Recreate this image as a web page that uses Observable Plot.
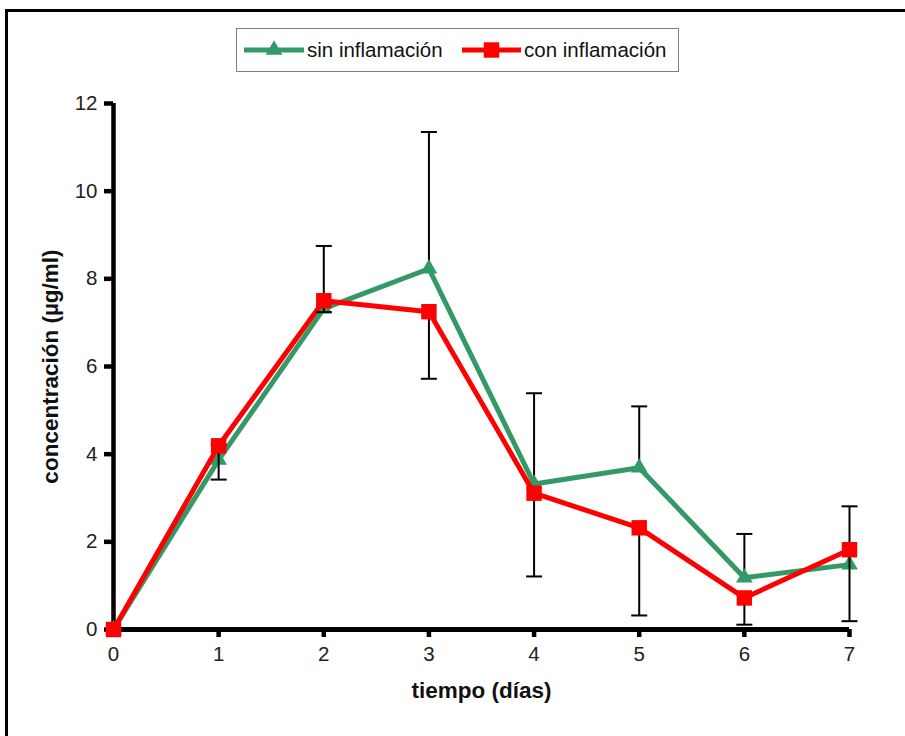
<!DOCTYPE html>
<html>
<head>
<meta charset="utf-8">
<script src="https://cdn.jsdelivr.net/npm/d3@7"></script>
<script src="https://cdn.jsdelivr.net/npm/@observablehq/plot@0.6"></script>
<style>
  html, body { margin: 0; padding: 0; background: #fff; }
  #wrap { position: relative; width: 905px; height: 736px; overflow: hidden; }
  #frame { position: absolute; left: 5px; top: 9px; width: 1200px; height: 1200px;
           border-left: 3px solid #000; border-top: 3px solid #000; }
  #chart { position: absolute; left: 0; top: 0; }
  #legend { position: absolute; left: 236px; top: 28px; width: 441px; height: 42px;
            border: 1.5px solid #7f7f7f; background: #fff;
            font-family: "Liberation Sans", Arial, sans-serif; font-size: 20.5px; color: #111; }
  #legend svg { position: absolute; left: 0; top: 0; }
  #legend span { position: absolute; top: 9px; white-space: nowrap; }
</style>
</head>
<body>
<div id="wrap">
  <div id="frame"></div>
  <div id="chart"></div>
  <div id="legend"></div>
</div>
<script>
// Tiempo en días
const dias = [0, 1, 2, 3, 4, 5, 6, 7];
// Concentración media (µg/ml) sin inflamación y su error (+)
const sinInflamacion = [0, 3.87, 7.32, 8.23, 3.32, 3.69, 1.18, 1.48];
const errorSin = [0, 0.35, 1.43, 3.12, 2.07, 1.40, 1.00, 1.33];
// Concentración media (µg/ml) con inflamación y su error (−)
const conInflamacion = [0, 4.19, 7.50, 7.25, 3.11, 2.32, 0.72, 1.82];
const errorCon = [0, 0.77, 0.26, 1.53, 1.90, 2.00, 0.61, 1.63];
// Marcas de los ejes
const yTicks = [0, 2, 4, 6, 8, 10, 12];
const xTicks = [0, 1, 2, 3, 4, 5, 6, 7];

const series = [
  { nombre: "sin inflamación", color: "#339966", simbolo: "triangle", r: 6.2 },
  { nombre: "con inflamación", color: "#ff0000", simbolo: "square", r: 8.7 }
];

const sin = dias.map((d, i) => ({ dia: d, valor: sinInflamacion[i], err: errorSin[i] }));
const con = dias.map((d, i) => ({ dia: d, valor: conInflamacion[i], err: errorCon[i] }));

// horizontal cap for the error whiskers
const cap = {
  draw(context, size) {
    const w = Math.sqrt(size / Math.PI);
    context.moveTo(-w, 0);
    context.lineTo(w, 0);
  }
};

const sinBarras = sin.filter(d => d.err > 0);
const conBarras = con.filter(d => d.err > 0);

const font = "Liberation Sans, Arial, sans-serif";

const chart = Plot.plot({
  width: 905,
  height: 736,
  marginLeft: 113,
  marginRight: 56,
  marginTop: 103,
  marginBottom: 107,
  style: { fontFamily: font, fontSize: "20.5px", color: "#222", background: "transparent", overflow: "visible" },
  x: { domain: [0, 7] },
  y: { domain: [0, 12] },
  marks: [
    Plot.axisY({ ticks: yTicks, tickSize: 9, tickPadding: 7, strokeWidth: 4.5, stroke: "#000", label: null,
                 tickFormat: d => String(d), fontSize: 20.5 }),
    Plot.axisX({ ticks: xTicks, tickSize: 8, tickPadding: 9, strokeWidth: 4.5, stroke: "#000", label: null,
                 tickFormat: d => String(d), fontSize: 20.5 }),
    Plot.ruleX([0], { y1: 0, y2: 12, strokeWidth: 4.5, stroke: "#000" }),
    Plot.ruleY([0], { x1: 0, x2: 7, strokeWidth: 5, stroke: "#000" }),

    // sin inflamación
    Plot.line(sin, { x: "dia", y: "valor", stroke: series[0].color, strokeWidth: 5 }),
    Plot.ruleX(sinBarras, { x: "dia", y1: "valor", y2: d => d.valor + d.err, stroke: "#000", strokeWidth: 2 }),
    Plot.dot(sinBarras, { x: "dia", y: d => d.valor + d.err, symbol: cap, r: 8, stroke: "#000", fill: "none", strokeWidth: 2 }),
    Plot.dot(sin, { x: "dia", y: "valor", symbol: series[0].simbolo, r: series[0].r, fill: series[0].color, stroke: "none" }),

    // con inflamación
    Plot.line(con, { x: "dia", y: "valor", stroke: series[1].color, strokeWidth: 5 }),
    Plot.ruleX(conBarras, { x: "dia", y1: d => d.valor - d.err, y2: "valor", stroke: "#000", strokeWidth: 2 }),
    Plot.dot(conBarras, { x: "dia", y: d => d.valor - d.err, symbol: cap, r: 8, stroke: "#000", fill: "none", strokeWidth: 2 }),
    Plot.dot(con, { x: "dia", y: "valor", symbol: series[1].simbolo, r: series[1].r, fill: series[1].color, stroke: "none" }),

    // axis titles
    Plot.text(["concentración (µg/ml)"], { frameAnchor: "left", textAnchor: "middle", dx: -63, rotate: -90,
      fontWeight: "bold", fontSize: 22.5, fill: "#111" }),
    Plot.text(["tiempo (días)"], { frameAnchor: "bottom", textAnchor: "middle", dy: 68,
      fontWeight: "bold", fontSize: 22.5, fill: "#111" })
  ]
});
document.getElementById("chart").appendChild(chart);

// legend
const legend = document.getElementById("legend");
const ns = "http://www.w3.org/2000/svg";
const lsvg = document.createElementNS(ns, "svg");
lsvg.setAttribute("width", 441);
lsvg.setAttribute("height", 42);
const entries = [
  { x0: 7, x1: 67, textX: 70 },
  { x0: 225, x1: 284, textX: 287 }
];
entries.forEach((e, i) => {
  const s = series[i];
  const line = document.createElementNS(ns, "line");
  line.setAttribute("x1", e.x0); line.setAttribute("x2", e.x1);
  line.setAttribute("y1", 21); line.setAttribute("y2", 21);
  line.setAttribute("stroke", s.color); line.setAttribute("stroke-width", 5);
  lsvg.appendChild(line);
  const sym = document.createElementNS(ns, "path");
  const type = s.simbolo === "triangle" ? d3.symbolTriangle : d3.symbolSquare;
  sym.setAttribute("d", d3.symbol(type, Math.PI * s.r * s.r)());
  sym.setAttribute("transform", `translate(${(e.x0 + e.x1) / 2},21)`);
  sym.setAttribute("fill", s.color);
  lsvg.appendChild(sym);
  const span = document.createElement("span");
  span.textContent = s.nombre;
  span.style.left = e.textX + "px";
  legend.appendChild(span);
});
legend.appendChild(lsvg);
</script>
</body>
</html>
